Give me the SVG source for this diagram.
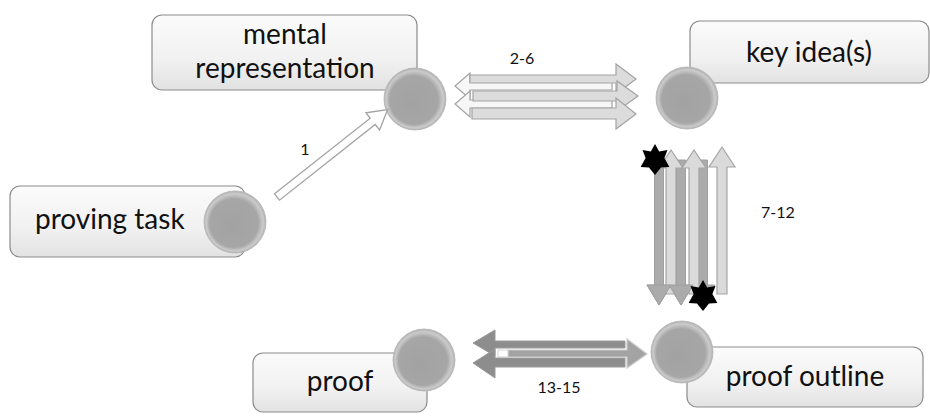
<svg xmlns="http://www.w3.org/2000/svg" width="930" height="419" viewBox="0 0 930 419">
<defs>
<linearGradient id="boxg" x1="0" y1="0" x2="0" y2="1">
<stop offset="0" stop-color="#fbfbfb"/>
<stop offset="0.6" stop-color="#f1f1f1"/>
<stop offset="1" stop-color="#e2e2e2"/>
</linearGradient>
<radialGradient id="sph" cx="0.5" cy="0.5" r="0.5" fx="0.42" fy="0.58">
<stop offset="0" stop-color="#a2a2a2"/>
<stop offset="0.78" stop-color="#a6a6a6"/>
<stop offset="0.92" stop-color="#cbcbcb"/>
<stop offset="1" stop-color="#b0b0b0"/>
</radialGradient>
<polygon id="star" points="0,-16 4.2,-8.6 12.5,-10 9.4,-2.1 14.4,6.9 6,7.5 0,15 -6,7.5 -14.4,6.9 -9.4,-2.1 -12.5,-10 -4.2,-8.6"/>
</defs>
<style>
.box{fill:url(#boxg);stroke:#8c8c8c;stroke-width:1.2}
.ball{fill:url(#sph);stroke:#b5b5b5;stroke-width:0.8}
.lbl{font-family:Lato,"Open Sans","Liberation Sans",sans-serif;font-size:28px;fill:#111}
.num{font-family:Lato,"Open Sans","Liberation Sans",sans-serif;font-size:16px;fill:#111}
.wa{fill:#ffffff;stroke:#a3a3a3;stroke-width:1.3}
.la{fill:#dcdcdc;stroke:#a3a3a3;stroke-width:1.2}
.lw{fill:#f7f7f7;stroke:#a3a3a3;stroke-width:1.2}
.da{fill:#ababab;stroke:#a0a0a0;stroke-width:1}
.ua{fill:#dadada;stroke:#a5a5a5;stroke-width:1.2}
.dk{fill:#8d8d8d;stroke:#9a9a9a;stroke-width:1}
.md{fill:#a3a3a3;stroke:#cccccc;stroke-width:1.2}
</style>

<g id="node-mental-representation">
<rect class="box" x="152" y="15" width="265" height="75" rx="10"/>
<text class="lbl" x="285" y="44" text-anchor="middle">mental</text>
<text class="lbl" x="285" y="78" text-anchor="middle">representation</text>
<circle class="ball" cx="415" cy="99" r="31"/>
</g>

<g id="node-key-ideas">
<rect class="box" x="690" y="21" width="239" height="62" rx="10"/>
<text class="lbl" x="809" y="62" text-anchor="middle">key idea(s)</text>
<circle class="ball" cx="687" cy="98" r="31"/>
</g>

<g id="node-proving-task">
<rect class="box" x="10" y="186" width="235" height="71" rx="10"/>
<text class="lbl" x="35" y="229">proving task</text>
<circle class="ball" cx="235" cy="222" r="31"/>
</g>

<g id="node-proof">
<rect class="box" x="253" y="353" width="174" height="59" rx="10"/>
<text class="lbl" x="340" y="391" text-anchor="middle">proof</text>
<circle class="ball" cx="424" cy="360" r="31"/>
</g>

<g id="node-proof-outline">
<rect class="box" x="687" y="347" width="236" height="60" rx="10"/>
<text class="lbl" x="805" y="386" text-anchor="middle">proof outline</text>
<circle class="ball" cx="682" cy="352" r="31"/>
</g>

<g id="connectors">
<!-- 1 -->
<path class="wa" transform="translate(277,197) rotate(-38.3)" d="M0,-4 L122,-4 L122,-11 L141,0 L122,11 L122,4 L0,4 Z"/>
<text class="num" x="305" y="155" text-anchor="middle">1</text>

<!-- 2-6 -->
<path class="lw" d="M455,86 L470,73 L470,82 L612,82 L612,90 L470,90 L470,99 Z"/>
<path class="lw" d="M455,104 L470,91 L470,100 L612,100 L612,108 L470,108 L470,117 Z"/>
<path class="la" d="M470,75 L616,75 L616,64 L636,79 L616,94 L616,83 L470,83 Z"/>
<path class="la" d="M473,91 L617,91 L617,81 L638,96 L617,111 L617,101 L473,101 Z"/>
<path class="la" d="M472,108 L616,108 L616,98 L636,114 L616,129 L616,119 L472,119 Z"/>
<text class="num" x="522" y="64" text-anchor="middle">2-6</text>

<!-- 7-12 -->
<path class="da" d="M654.5,155 L663.5,155 L663.5,285 L671,285 L659,305 L647,285 L654.5,285 Z"/>
<path class="da" d="M676.5,160 L685.5,160 L685.5,285 L693,285 L681,305 L669,285 L676.5,285 Z"/>
<path class="da" d="M698.5,160 L707.5,160 L707.5,285 L715,285 L703,305 L691,285 L698.5,285 Z"/>
<path class="ua" d="M666,294 L666,168 L659,168 L671,150 L683,168 L676,168 L676,294 Z"/>
<path class="ua" d="M689,294 L689,168 L682,168 L694,150 L706,168 L699,168 L699,294 Z"/>
<path class="ua" d="M717,294 L717,167 L709,167 L722,147 L735,167 L727,167 L727,294 Z"/>
<polygon class="da" points="647,285 671,285 659,305"/>
<polygon class="da" points="669,285 693,285 681,305"/>
<use href="#star" x="655" y="160"/>
<use href="#star" x="703" y="296"/>
<text class="num" x="778" y="218" text-anchor="middle">7-12</text>

<!-- 13-15 -->
<path class="dk" d="M473,343 L495,330 L495,341 L625,341 L625,348 L495,348 L495,356 Z"/>
<path class="dk" d="M473,363 L495,349 L495,358 L625,358 L625,367 L495,367 L495,378 Z"/>
<path class="md" d="M508,350 L627,350 L627,339 L647,354 L627,368 L627,357 L508,357 Z"/>
<rect x="498" y="350" width="10" height="7" fill="#ffffff" stroke="#c8c8c8" stroke-width="0.8"/>
<text class="num" x="559" y="393" text-anchor="middle">13-15</text>
</g>
</svg>
